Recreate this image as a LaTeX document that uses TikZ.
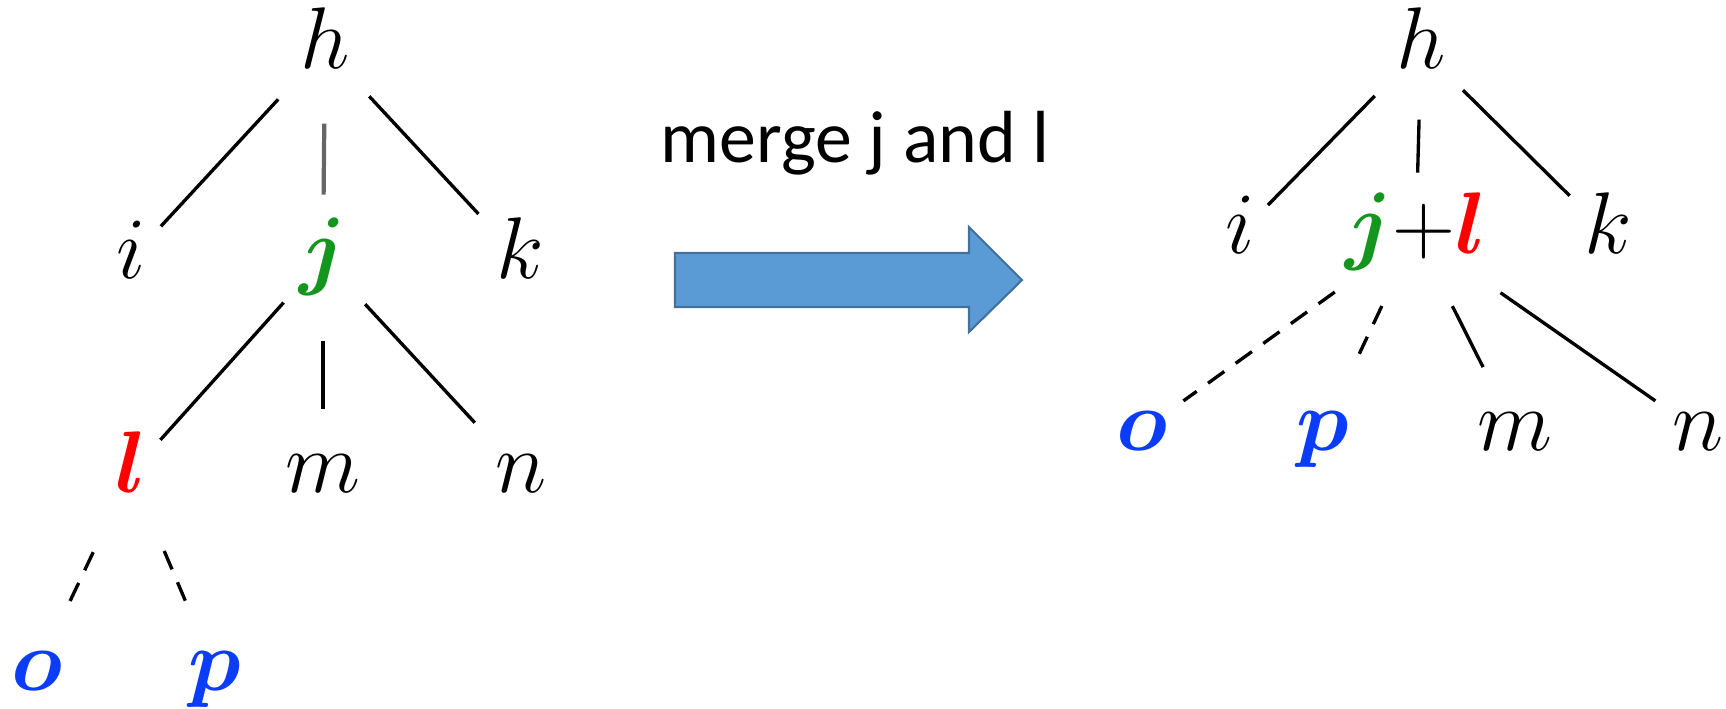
\documentclass[tikz,border=0pt]{standalone}
\usepackage{amsmath}
\usepackage{fontspec}
\newfontfamily\calibri{Carlito}

\definecolor{jverde}{RGB}{20,150,30}
\definecolor{azulop}{RGB}{10,60,250}
\definecolor{flechafondo}{RGB}{91,155,213}
\definecolor{flechaborde}{RGB}{65,113,156}

\tikzset{
    vertice/.style={anchor=base, inner sep=0pt, text height=16pt, text depth=5pt,
        font=\fontsize{23}{27}\selectfont},
    rama/.style={line width=0.95pt},
    oculta/.style={rama, dash pattern=on 0.2cm off 0.14cm},
}

\begin{document}
\begin{tikzpicture}[x=0.01cm, y=-0.01cm]
    \useasboundingbox (0,0) rectangle (1726,709);

    % Arbol original
    \node[vertice] (h1) at (325,68)  {$h$};
    \node[vertice] (i1) at (131,278) {$i$};
    \node[vertice] (j1) at (323,278) {$\color{jverde}\boldsymbol{j}$};
    \node[vertice] (k1) at (520,278) {$k$};
    \node[vertice] (l1) at (131,492) {$\color{red}\boldsymbol{l}$};
    \node[vertice] (m1) at (323,492) {$m$};
    \node[vertice] (n1) at (521,492) {$n$};
    \node[vertice] (o1) at (37,690)  {$\color{azulop}\boldsymbol{o}$};
    \node[vertice] (p1) at (215,690) {$\color{azulop}\boldsymbol{p}$};

    \draw[rama, shorten <=0.69cm, shorten >=0.44cm] (h1.center) -- (i1.center);
    \draw[rama, black!60, line width=1.2pt, shorten <=0.75cm, shorten >=0.64cm] (h1.center) -- (j1.center);
    \draw[rama, shorten <=0.65cm, shorten >=0.61cm] (h1.center) -- (k1.center);
    \draw[rama, shorten <=0.59cm, shorten >=0.44cm] (j1.center) -- (l1.center);
    \draw[rama, shorten <=0.82cm, shorten >=0.64cm] (j1.center) -- (m1.center);
    \draw[rama, shorten <=0.62cm, shorten >=0.68cm] (j1.center) -- (n1.center);
    \draw[oculta, shorten <=0.88cm, shorten >=0.75cm] (l1.center) -- (o1.center);
    \draw[oculta, shorten <=0.85cm, shorten >=0.76cm] (l1.center) -- (p1.center);

    % Flecha y texto
    \node[anchor=base, font=\calibri\fontsize{21}{25}\selectfont] (titulo) at (855,162) {merge j and l};
    \filldraw[fill=flechafondo, draw=flechaborde, line width=0.6pt]
        (675,253) -- (969,253) -- (969,227) -- (1022,280)
        -- (969,332) -- (969,307) -- (675,307) -- cycle;

    % Arbol tras la fusion
    \node[vertice] (h2)  at (1421,68)  {$h$};
    \node[vertice] (i2)  at (1240,253) {$i$};
    \node[vertice] (jl2) at (1416,253) {${\color{jverde}\boldsymbol{j}}{+}{\color{red}\boldsymbol{l}}$};
    \node[vertice] (k2)  at (1608,253) {$k$};
    \node[vertice] (o2)  at (1142,450) {$\color{azulop}\boldsymbol{o}$};
    \node[vertice] (p2)  at (1323,450) {$\color{azulop}\boldsymbol{p}$};
    \node[vertice] (m2)  at (1515,450) {$m$};
    \node[vertice] (n2)  at (1698,450) {$n$};

    \draw[rama, shorten <=0.66cm, shorten >=0.40cm] (h2.center) -- (i2.center);
    \draw[rama, shorten <=0.71cm, shorten >=0.61cm] (h2.center) -- (jl2.center);
    \draw[rama, shorten <=0.59cm, shorten >=0.54cm] (h2.center) -- (k2.center);
    \draw[oculta, shorten <=1.00cm, shorten >=0.51cm] (jl2.center) -- (o2.center);
    \draw[oculta, shorten <=0.80cm, shorten >=0.85cm] (jl2.center) -- (p2.center);
    \draw[rama, shorten <=0.81cm, shorten >=0.71cm] (jl2.center) -- (m2.center);
    \draw[rama, shorten <=1.03cm, shorten >=0.52cm] (jl2.center) -- (n2.center);
\end{tikzpicture}
\end{document}
